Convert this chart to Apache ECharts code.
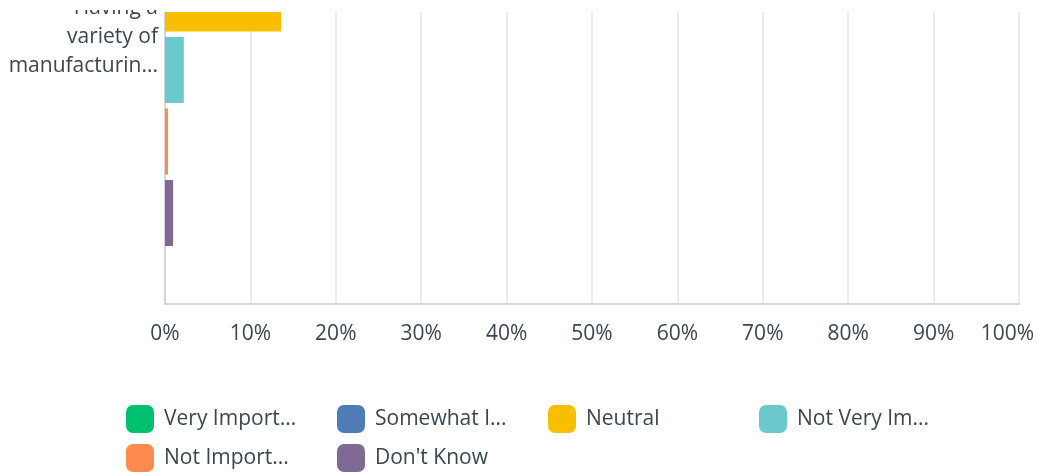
<!DOCTYPE html>
<html><head><meta charset="utf-8">
<script src="https://cdn.jsdelivr.net/npm/echarts@6/dist/echarts.min.js"></script>
<style>html,body{margin:0;padding:0;background:#fff}#c{width:1039px;height:473px}</style>
</head><body><div id="c"></div>
<script>
const categories = ['Having a\nvariety of\nmanufacturin...'];
const seriesNames = ['Very Important', 'Somewhat Important', 'Neutral', 'Not Very Important', 'Not Important', "Don't Know"];
const legendLabels = ['Very Import...', 'Somewhat I...', 'Neutral', 'Not Very Im...', 'Not Import...', "Don't Know"];
const veryImportant = [45.0];
const somewhatImportant = [37.9];
const neutral = [13.6];
const notVeryImportant = [2.2];
const notImportant = [0.35];
const dontKnow = [0.95];
const xTicks = [0, 10, 20, 30, 40, 50, 60, 70, 80, 90, 100];
const colors = ['#00bf6f', '#507cb6', '#f9be00', '#6bc8cd', '#ff8b4f', '#7f6a93'];
const values = [veryImportant, somewhatImportant, neutral, notVeryImportant, notImportant, dontKnow];

const chart = echarts.init(document.getElementById('c'), null, {renderer: 'canvas'});
const font = '"Open Sans", Roboto, sans-serif';
const textColor = '#3a4650';
chart.setOption({
  animation: false,
  color: colors,
  grid: {left: 165, width: 854, top: -235.5, height: 539.5, containLabel: false, outerBoundsMode: 'none'},
  xAxis: {
    type: 'value', min: xTicks[0], max: xTicks[xTicks.length - 1], interval: 10,
    axisLine: {show: true, lineStyle: {color: '#d6d6d6', width: 2}},
    axisTick: {show: false},
    splitLine: {show: true, lineStyle: {color: '#ececec', width: 2}},
    axisLabel: {
      formatter: function (v) { return v === 100 ? '{last|' + v + '%}' : v + '%'; },
      color: textColor, fontSize: 21, fontFamily: font, margin: 20,
      rich: {last: {color: textColor, fontSize: 21, fontFamily: font, padding: [0, 23, 0, 0]}}
    }
  },
  yAxis: {
    type: 'category', data: categories, inverse: true,
    axisLine: {show: true, lineStyle: {color: '#d6d6d6', width: 2}},
    axisTick: {show: false},
    axisLabel: {
      formatter: function (v) { return '{sp| }\n' + v.split('\n').map(l => '{a|' + l + '}').join('\n'); },
      color: textColor, fontSize: 21, fontFamily: font, margin: 7, align: 'right',
      rich: {
        a: {color: textColor, fontSize: 21, fontFamily: font, lineHeight: 29, align: 'right'},
        sp: {fontSize: 6, lineHeight: 6}
      }
    }
  },
  legend: seriesNames.map((n, i) => ({
    left: 126, top: 405, padding: 0,
    left: 126 + (i % 4) * 211, top: 405 + Math.floor(i / 4) * 39,
    itemWidth: 28, itemHeight: 28, icon: 'roundRect',
    data: [n],
    formatter: function (name) { return legendLabels[seriesNames.indexOf(name)]; },
    textStyle: {color: textColor, fontSize: 21, fontFamily: font, padding: [0, 0, 0, 5]}
  })),
  graphic: [
    {type: 'rect', z: 100, left: 0, top: 0, shape: {width: 160, height: 10}, style: {fill: '#fff'}},
    {type: 'rect', z: 100, left: 160, top: 0, shape: {width: 900, height: 12}, style: {fill: '#fff'}}
  ],
  series: seriesNames.map((n, i) => ({
    name: n, type: 'bar', data: values[i],
    barGap: '8.3%', barCategoryGap: '21.5%'
  }))
});
</script></body></html>
